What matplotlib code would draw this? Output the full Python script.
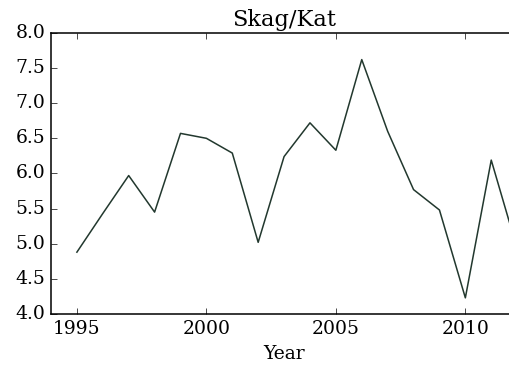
import matplotlib
matplotlib.use("Agg")
import matplotlib.pyplot as plt

# Skagerrak/Kattegat yearly series
years = [1995, 1996, 1997, 1998, 1999, 2000, 2001, 2002, 2003, 2004,
         2005, 2006, 2007, 2008, 2009, 2010, 2011, 2012]
values = [4.88, 5.43, 5.97, 5.45, 6.57, 6.50, 6.29, 5.02, 6.24, 6.72,
          6.33, 7.62, 6.60, 5.77, 5.48, 4.23, 6.19, 4.93]

plt.style.use("classic")
plt.rcParams["font.family"] = ["DejaVu Serif"]
plt.rcParams["font.size"] = 13.5
plt.rcParams["xtick.major.size"] = 4.5
plt.rcParams["ytick.major.size"] = 4.5
plt.rcParams["axes.linewidth"] = 1.1

fig = plt.figure(figsize=(5.10, 3.67), dpi=100, facecolor="white")
# right spine sits just past the figure edge
ax = fig.add_axes([0.100, 0.1444, 0.914, 0.766])
ax.plot(years, values, color="#22382e", lw=1.1)

ax.set_xlim(1994, 2012)
ax.set_ylim(4.0, 8.0)
ax.set_xticks([1995, 2000, 2005, 2010])
ax.set_yticks([4.0, 4.5, 5.0, 5.5, 6.0, 6.5, 7.0, 7.5, 8.0])
ax.xaxis.set_major_formatter(matplotlib.ticker.FormatStrFormatter("%d"))
ax.yaxis.set_major_formatter(matplotlib.ticker.FormatStrFormatter("%.1f"))
ax.set_xlabel("Year")
ax.set_title("Skag/Kat")

fig.savefig("out.png", dpi=100, facecolor="white")
